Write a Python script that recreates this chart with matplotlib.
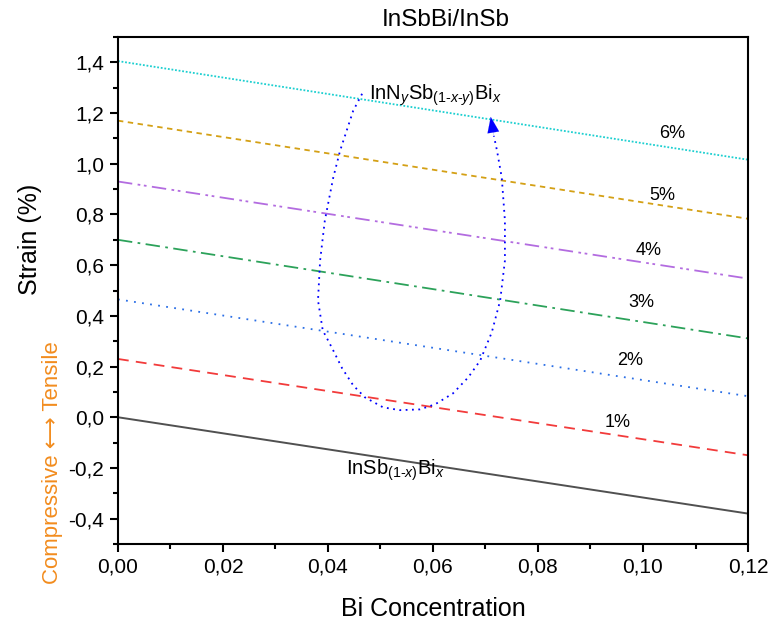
import numpy as np
import matplotlib
matplotlib.use("Agg")
import matplotlib.pyplot as plt
from matplotlib.ticker import MultipleLocator, FuncFormatter

plt.rcParams['font.family'] = ['Liberation Sans', 'DejaVu Sans']
plt.rcParams['mathtext.fontset'] = 'custom'
plt.rcParams['mathtext.rm'] = 'Liberation Sans'
plt.rcParams['mathtext.it'] = 'Liberation Sans:italic'

# Strain at the two ends of the Bi range (x = 0 and x = 0.12)
bi_ends = [0.0, 0.12]
strain_insbbi = [0.0, -0.38]
n_labels = ["1%", "2%", "3%", "4%", "5%", "6%"]
strain_n_start = [0.23, 0.465, 0.70, 0.93, 1.17, 1.405]
strain_n_end = [-0.15, 0.083, 0.311, 0.547, 0.783, 1.016]
label_x = [0.0952, 0.0975, 0.0996, 0.1010, 0.1036, 0.1055]
label_y = [-0.02, 0.224, 0.453, 0.657, 0.874, 1.12]

# Guide loop through the N-containing alloys
loop_x = [0.0465, 0.0448, 0.0423, 0.0410, 0.0394, 0.0385, 0.0381, 0.0390,
          0.0408, 0.0427, 0.0448, 0.0470, 0.0505, 0.0537, 0.0575, 0.0604,
          0.0638, 0.0667, 0.0690, 0.0712, 0.0728, 0.0737, 0.0737, 0.0731,
          0.0722, 0.0716]
loop_y = [1.276, 1.209, 1.051, 0.945, 0.776, 0.618, 0.461, 0.343,
          0.272, 0.193, 0.126, 0.079, 0.039, 0.028, 0.031, 0.051,
          0.094, 0.157, 0.224, 0.335, 0.461, 0.618, 0.776, 0.945,
          1.051, 1.110]
arrow_tip = (0.0710, 1.185)

n_colors = ["#F23B3B", "#2B6FE6", "#2CA25A", "#B36CE0", "#D4A015", "#1CCFD0"]
n_styles = [(0, (6, 4)), (0, (1, 3.5)), (0, (8, 3, 1.5, 3)),
            (0, (8, 3, 1.5, 2, 1.5, 3)), (0, (3, 2.5)), (0, (1, 1))]

fig = plt.figure(figsize=(7.69, 6.22), dpi=100)
ax = fig.add_axes([0.1534, 0.1254, 0.8193, 0.8151])

ax.plot(bi_ends, strain_insbbi, color="#505050", lw=1.4)
for s0, s1, c, ls in zip(strain_n_start, strain_n_end, n_colors, n_styles):
    ax.plot(bi_ends, [s0, s1], color=c, ls=ls, lw=1.3)
for lab, lx, ly in zip(n_labels, label_x, label_y):
    ax.text(lx, ly, lab, fontsize=13, ha="center", va="center")

ax.plot(loop_x, loop_y, color="#0000FF", ls=(0, (1, 2.5)), lw=1.3)
ax.annotate("", xy=arrow_tip, xytext=(loop_x[-1], loop_y[-1]),
            arrowprops=dict(arrowstyle="-|>,head_length=0.8,head_width=0.3",
                            mutation_scale=14, color="#0000FF", lw=0.1,
                            shrinkA=0, shrinkB=0))

ax.text(0.0528, -0.21, r"InSb$_{(1\text{-}x)}$Bi$_x$", fontsize=14.5,
        ha="center", va="center")
ax.text(0.0604, 1.27, r"InN$_y$Sb$_{(1\text{-}x\text{-}y)}$Bi$_x$", fontsize=14.5,
        ha="center", va="center")

ax.set_xlim(0, 0.12)
ax.set_ylim(-0.5, 1.5)
ax.xaxis.set_major_locator(MultipleLocator(0.02))
ax.xaxis.set_minor_locator(MultipleLocator(0.01))
ax.set_yticks(np.arange(-0.4, 1.41, 0.2))
ax.yaxis.set_minor_locator(MultipleLocator(0.1))
ax.xaxis.set_major_formatter(FuncFormatter(lambda v, p: f"{v:.2f}".replace(".", ",")))
ax.yaxis.set_major_formatter(FuncFormatter(
    lambda v, p: f"{v:.1f}".replace(".", ",").replace("-0,0", "0,0")))
ax.tick_params(which="major", direction="out", length=6, width=1.5,
               labelsize=15, top=False, right=False, pad=4)
ax.tick_params(which="minor", direction="out", length=3.5, width=1.5,
               top=False, right=False)
for sp in ax.spines.values():
    sp.set_linewidth(1.5)

ax.set_title("InSbBi/InSb", fontsize=17.5, pad=8, x=0.52)
ax.set_xlabel("Bi Concentration", fontsize=18)
ax.set_ylabel("Strain (%)", fontsize=18)
ax.xaxis.set_label_coords(0.5, -0.104)
ax.yaxis.set_label_coords(-0.12, 0.6)
fig.text(0.068, 0.257, "Compressive \u27f7 Tensile", color="#F28C1E",
         fontsize=16, rotation=90, ha="center", va="center",
         family=["Liberation Sans", "DejaVu Sans"])

fig.savefig("out.png", dpi=100, facecolor="white")
